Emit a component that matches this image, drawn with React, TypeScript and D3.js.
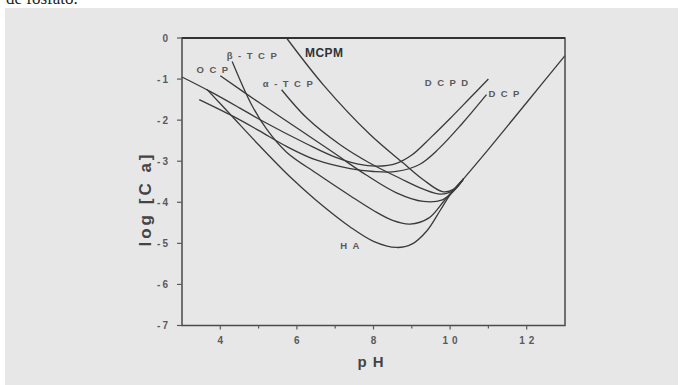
import * as d3 from "d3"

type Pt = [number, number]

// pH axis / log[Ca] axis
const phMajor = [4, 6, 8, 10, 12]
const phMinor = [5, 7, 9, 11]
const logTicks = [0, -1, -2, -3, -4, -5, -6, -7]

// solubility isotherms, [pH, log Ca]
const dcpd: Pt[] = [[3.0, -0.95], [3.73, -1.3], [4.5, -1.7], [5.04, -1.99], [6.26, -2.58], [7.0, -2.9], [7.6, -3.07], [8.1, -3.12], [8.6, -3.05], [9.0, -2.85], [9.5, -2.42], [10.0, -1.96], [10.5, -1.48], [11.0, -1.0]]
const dcp: Pt[] = [[3.45, -1.5], [4.34, -1.91], [5.0, -2.25], [5.73, -2.64], [6.5, -2.97], [7.39, -3.18], [8.0, -3.25], [8.6, -3.25], [9.2, -3.08], [9.7, -2.7], [10.3, -2.1], [10.95, -1.38]]
const ocp: Pt[] = [[4.0, -0.92], [5.04, -1.59], [6.08, -2.24], [7.0, -2.82], [7.8, -3.33], [8.6, -3.77], [9.3, -3.98], [9.8, -3.94], [10.1, -3.72], [10.35, -3.43]]
const aTcp: Pt[] = [[5.6, -1.26], [6.26, -1.95], [7.13, -2.6], [7.91, -3.05], [8.7, -3.42], [9.3, -3.68], [9.75, -3.8], [10.1, -3.7], [10.35, -3.43]]
const bTcp: Pt[] = [[4.31, -0.57], [4.82, -1.63], [5.21, -2.22], [5.73, -2.78], [6.52, -3.3], [7.39, -3.84], [8.0, -4.2], [8.5, -4.44], [8.95, -4.53], [9.45, -4.38], [9.83, -3.98], [10.1, -3.68], [10.35, -3.43]]
const mcpm: Pt[] = [[5.73, 0], [6.69, -1.14], [7.91, -2.35], [8.77, -3.04], [9.3, -3.45], [9.8, -3.74], [10.1, -3.68], [10.35, -3.43]]
const ha: Pt[] = [[3.65, -1.25], [4.3, -1.9], [5.0, -2.6], [5.82, -3.38], [6.5, -3.95], [7.39, -4.6], [8.0, -4.95], [8.6, -5.1], [9.0, -5.02], [9.39, -4.7], [9.74, -4.2], [10.0, -3.82], [10.35, -3.43], [11.0, -2.71], [12.0, -1.57], [13.0, -0.43]]

const curves = [dcpd, dcp, ocp, aTcp, bTcp, mcpm, ha]

// curve names with the [pH, log Ca] where each name starts
const labelNames = ["MCPM", "β-TCP", "OCP", "α-TCP", "DCPD", "DCP", "HA"]
const labelAt: Pt[] = [[6.21, -0.46], [4.17, -0.5], [3.38, -0.85], [5.11, -1.19], [9.34, -1.16], [11.0, -1.43], [7.13, -5.14]]

export default function App() {
  const width = 682
  const height = 385
  const left = 182
  const right = 565
  const top = 38
  const bottom = 325.5

  const x = d3.scaleLinear().domain([3, 13]).range([left, right])
  const y = d3.scaleLinear().domain([-7, 0]).range([bottom, top])

  const line = d3
    .line<Pt>()
    .x((d) => x(d[0]))
    .y((d) => y(d[1]))
    .curve(d3.curveCatmullRom.alpha(0.5))

  const ink = "#3a3a3a"
  const soft = "#5a5a5a"
  const sans = "'Liberation Sans', Arial, sans-serif"

  return (
    <svg
      width={width}
      height={height}
      style={{ position: "absolute", left: 0, top: 0, background: "#fff" }}
    >
      <rect x={5} y={8} width={673} height={377} fill="#e7e7e7" />
      <text x={6} y={4} fontFamily="'Liberation Serif', serif" fontSize={17} fill="#222">
        de fosfato.
      </text>

      {/* curves */}
      <g fill="none" stroke={ink} strokeWidth={1.3}>
        {curves.map((c, i) => (
          <path key={i} d={line(c) ?? ""} />
        ))}
      </g>

      {/* frame */}
      <rect x={left} y={top} width={right - left} height={bottom - top} fill="none" stroke="#4a4a4a" strokeWidth={1.5} />
      <line x1={left} x2={right} y1={top} y2={top} stroke="#333" strokeWidth={2} />

      {/* y ticks */}
      <g fontFamily={sans} fontSize={10} fontWeight="bold" fill={soft}>
        {logTicks.map((t) => (
          <g key={t}>
            <line x1={left - 5} x2={left} y1={y(t)} y2={y(t)} stroke={soft} strokeWidth={1.2} />
            <text x={170} y={y(t) + 3.5} textAnchor="end" letterSpacing={2}>
              {t === 0 ? "0" : `-${-t}`}
            </text>
          </g>
        ))}
      </g>

      {/* x ticks */}
      <g fontFamily={sans} fontSize={10} fontWeight="bold" fill={soft}>
        {phMajor.map((t) => (
          <g key={t}>
            <line x1={x(t)} x2={x(t)} y1={bottom} y2={bottom + 4} stroke={soft} strokeWidth={1.2} />
            <text x={x(t) + (t >= 10 ? 2 : 0)} y={344} textAnchor="middle" letterSpacing={t >= 10 ? 4 : 0}>
              {t}
            </text>
          </g>
        ))}
        {phMinor.map((t) => (
          <line key={t} x1={x(t)} x2={x(t)} y1={bottom} y2={bottom + 3} stroke={soft} strokeWidth={1.2} />
        ))}
      </g>

      {/* axis titles */}
      <text
        transform="translate(151,199) rotate(-90)"
        textAnchor="middle"
        fontFamily={sans}
        fontSize={17}
        fontWeight="bold"
        fill="#444"
        letterSpacing={3}
      >
        log [C a]
      </text>
      <text x={371} y={367} textAnchor="middle" fontFamily={sans} fontSize={15} fontWeight="bold" fill="#444" letterSpacing={1}>
        p H
      </text>

      {/* curve names */}
      <g fontFamily={sans} fontWeight="bold" fill={soft}>
        {labelNames.map((n, i) => (
          <text
            key={n}
            x={x(labelAt[i][0])}
            y={y(labelAt[i][1])}
            fontSize={n === "MCPM" ? 12 : 9.5}
            letterSpacing={n === "MCPM" ? 0.5 : 5.5}
            fill={n === "MCPM" ? "#333" : soft}
          >
            {n}
          </text>
        ))}
      </g>
    </svg>
  )
}
